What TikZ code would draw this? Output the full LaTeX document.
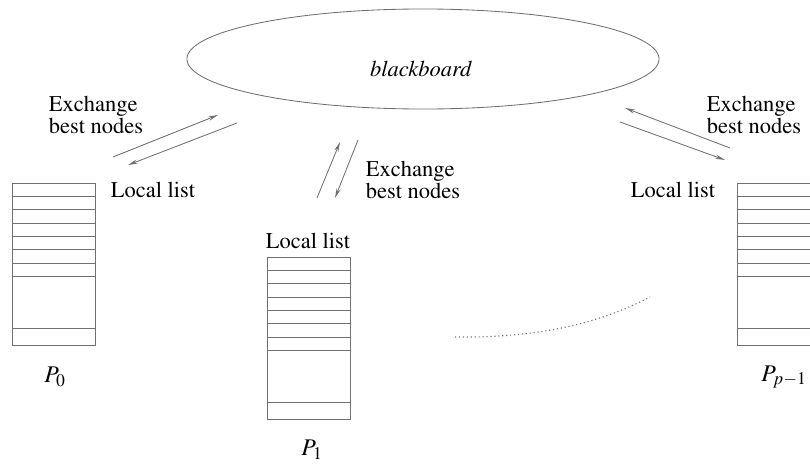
\documentclass[tikz,border=0pt]{standalone}
\usepackage{amsmath}
\usepackage[T1]{fontenc}
\usepackage{mathptmx}
\usetikzlibrary{shapes.geometric,arrows.meta}
\definecolor{lineg}{HTML}{707070}

\begin{document}
\begin{tikzpicture}[x=0.025cm,y=-0.025cm,
  every node/.style={font=\fontsize{16}{12.5}\selectfont},
  board/.style={draw=lineg, line width=0.6pt, ellipse, inner sep=0pt,
                minimum width=11.8cm, minimum height=2.5cm},
  llist/.style={draw=lineg, line width=0.6pt, rectangle, inner sep=0pt,
                minimum width=2.075cm, minimum height=4.05cm},
  xch/.style={->, >={Stealth[length=7pt,width=3pt]}, draw=lineg, line width=0.6pt},
  proc/.style={font=\fontsize{17}{18}\selectfont},
  lbl/.style={align=left},
]
\useasboundingbox (0,0) rectangle (810,467);

% blackboard
\node[board] (bb) at (423,59) {};
\node at (421,69) {\textit{blackboard}};

% local lists
\node[llist] (list0) at (53.5,264) {};
\node[llist] (list1) at (308.5,338) {};
\node[llist] (listp) at (778.5,264) {};
\foreach \l in {list0,list1,listp}
  \foreach \f in {0.3375,0.675,1.0125,1.35,1.675,2.0125,2.35,3.65}
    \draw[lineg, line width=0.6pt] ([yshift=-\f cm]\l.north west) -- ([yshift=-\f cm]\l.north east);

\node[proc] (p0) at (55,377) {$P_0$};
\node[proc] (p1) at (312,450) {$P_1$};
\node[proc] (pp) at (784,377) {$P_{p-1}$};

\node (ll0) at (153,190) {Local list};
\node (ll1) at (308,241) {Local list};
\node (llp) at (673,190) {Local list};

\node[lbl] (ex0) at (96,115) {Exchange\\best nodes};
\node[lbl] (ex1) at (413,180) {Exchange\\best nodes};
\node[lbl] (exp) at (754,115) {Exchange\\best nodes};

% exchange arrows
\coordinate (a0s) at (113,157); \coordinate (a0e) at (218,115);
\coordinate (b0s) at (237,123); \coordinate (b0e) at (128,165);
\draw[xch] (a0s) -- (a0e);
\draw[xch] (b0s) -- (b0e);
\coordinate (a1s) at (317,198); \coordinate (a1e) at (340,142);
\coordinate (b1s) at (358,140); \coordinate (b1e) at (335,198);
\draw[xch] (a1s) -- (a1e);
\draw[xch] (b1s) -- (b1e);
\coordinate (aps) at (730,148); \coordinate (ape) at (625,108);
\coordinate (bps) at (620,122); \coordinate (bpe) at (725,160);
\draw[xch] (aps) -- (ape);
\draw[xch] (bps) -- (bpe);

% the other lists
\coordinate (d0) at (455,337); \coordinate (d1) at (650,297);
\draw[lineg, dotted, line width=0.8pt] (d0) .. controls (540,338) and (600,323) .. (d1);
\end{tikzpicture}
\end{document}
